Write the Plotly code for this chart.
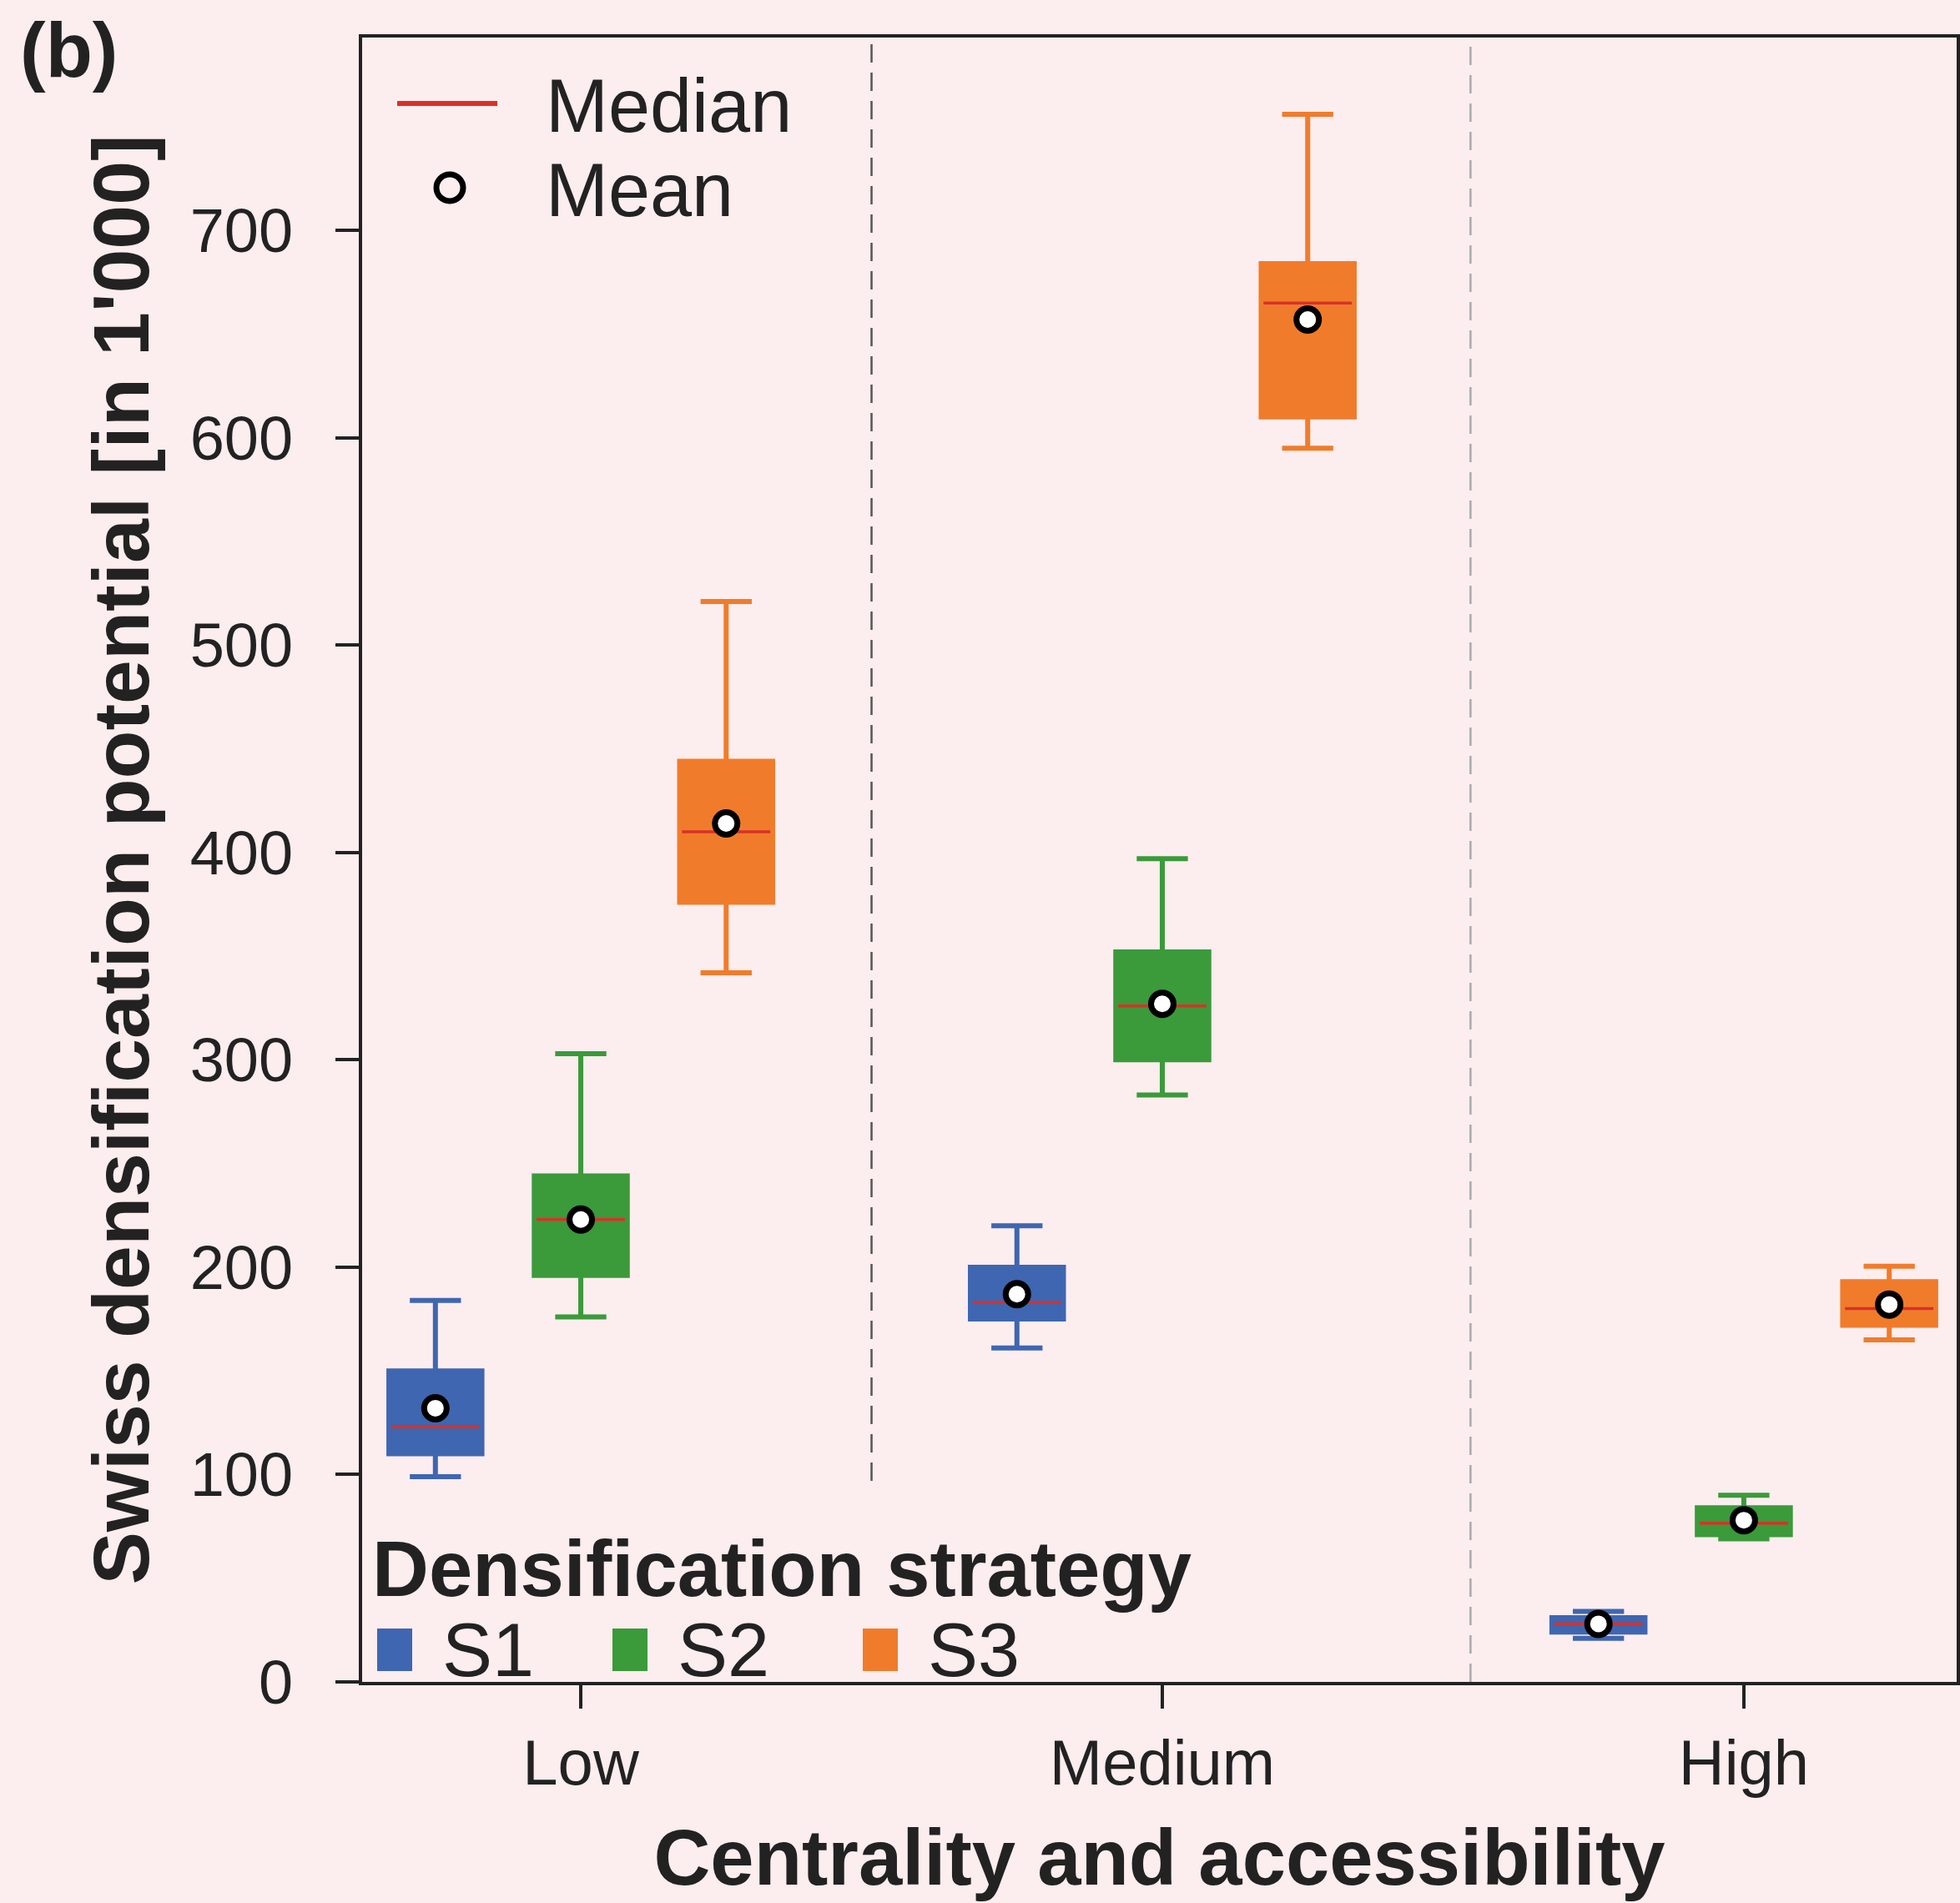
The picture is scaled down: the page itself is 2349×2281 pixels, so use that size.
import plotly.graph_objects as go

# ---------------- data ----------------
categories = ["Low", "Medium", "High"]
strategies = ["S1", "S2", "S3"]
colors = ["#3f66b0", "#3b9a3a", "#f07c2b"]
offsets = [-0.25, 0.0, 0.25]

# values per strategy, ordered Low, Medium, High  [in 1'000]
lower_whisker = {"S1": [99, 161, 21], "S2": [176, 283, 69], "S3": [342, 595, 165]}
q1 = {"S1": [110, 175, 24], "S2": [196, 300, 71], "S3": [376, 610, 172]}
median = {"S1": [123, 183, 28], "S2": [223, 326, 76.5], "S3": [410, 665, 180]}
q3 = {"S1": [150, 200, 31], "S2": [244, 352, 84], "S3": [444, 684, 193]}
upper_whisker = {"S1": [184, 220, 34], "S2": [303, 397, 90], "S3": [521, 756, 200.5]}
mean = {"S1": [132, 187, 28], "S2": [223, 327, 78], "S3": [414, 657, 182]}

y_ticks = [0, 100, 200, 300, 400, 500, 600, 700]
separators = [0.5, 1.53]

# ---------------- style ----------------
BG = "#fcedef"
INK = "#222222"
MEDIAN_RED = "#d8312b"
FONT = "Liberation Sans, Arial, Helvetica, sans-serif"
BOX_W = 0.16

fig = go.Figure()

for s, col, off in zip(strategies, colors, offsets):
    xs = [i + off for i in range(len(categories))]
    fig.add_trace(go.Box(
        name=s, x=xs,
        q1=q1[s], median=median[s], q3=q3[s],
        lowerfence=lower_whisker[s], upperfence=upper_whisker[s],
        width=BOX_W, whiskerwidth=0.55,
        fillcolor=col, line=dict(color=col, width=6),
        boxpoints=False, showlegend=False, hoverinfo="skip",
    ))
    # median line in red
    mx, my = [], []
    for x, m in zip(xs, median[s]):
        mx += [x - BOX_W / 2 + 0.004, x + BOX_W / 2 - 0.004, None]
        my += [m, m, None]
    fig.add_trace(go.Scatter(x=mx, y=my, mode="lines",
                             line=dict(color=MEDIAN_RED, width=3.5),
                             showlegend=False, hoverinfo="skip"))

# means
for s, off in zip(strategies, offsets):
    xs = [i + off for i in range(len(categories))]
    fig.add_trace(go.Scatter(x=xs, y=mean[s], mode="markers",
                             marker=dict(symbol="circle", size=27, color="white",
                                         line=dict(color="black", width=7)),
                             showlegend=False, hoverinfo="skip"))

shapes = []
# separators between groups
shapes.append(dict(type="line", xref="x", yref="y", x0=separators[0], x1=separators[0],
                   y0=97, y1=793, line=dict(color="#555555", width=2.5, dash="22px,12px")))
shapes.append(dict(type="line", xref="x", yref="paper", x0=separators[1], x1=separators[1],
                   y0=0, y1=1, line=dict(color="#aaaaaa", width=2.5, dash="22px,12px")))

# ---------------- legends (drawn in paper space) ----------------
def px(X):
    return (X - 434) / 1911

def py(Y):
    return (2016 - Y) / 1971

annotations = []
# Median / Mean key
shapes.append(dict(type="line", xref="paper", yref="paper", x0=px(476), x1=px(596),
                   y0=py(124), y1=py(124), line=dict(color=MEDIAN_RED, width=6)))
shapes.append(dict(type="circle", xref="paper", yref="paper",
                   x0=px(539 - 16), x1=px(539 + 16), y0=py(225 + 16), y1=py(225 - 16),
                   line=dict(color="black", width=7), fillcolor="rgba(0,0,0,0)"))
annotations.append(dict(text="Median", xref="paper", yref="paper", x=px(652), y=py(127),
                        xanchor="left", yanchor="middle", showarrow=False,
                        font=dict(size=90, color=INK, family=FONT)))
annotations.append(dict(text="Mean", xref="paper", yref="paper", x=px(652), y=py(228),
                        xanchor="left", yanchor="middle", showarrow=False,
                        font=dict(size=90, color=INK, family=FONT)))

# Densification strategy key
annotations.append(dict(text="<b>Densification strategy</b>", xref="paper", yref="paper",
                        x=px(444), y=py(1880), xanchor="left", yanchor="middle",
                        showarrow=False, font=dict(size=94, color=INK, family=FONT)))
key_x = [452, 734, 1034]
for s, col, kx in zip(strategies, colors, key_x):
    shapes.append(dict(type="rect", xref="paper", yref="paper",
                       x0=px(kx), x1=px(kx + 42), y0=py(2003), y1=py(1952),
                       fillcolor=col, line=dict(width=0)))
    annotations.append(dict(text=s, xref="paper", yref="paper", x=px(kx + 76), y=py(1978),
                            xanchor="left", yanchor="middle", showarrow=False,
                            font=dict(size=90, color=INK, family=FONT)))

# panel label
annotations.append(dict(text="<b>(b)</b>", xref="paper", yref="paper", x=px(82), y=py(60),
                        xanchor="center", yanchor="middle", showarrow=False,
                        font=dict(size=92, color=INK, family=FONT)))

fig.update_layout(
    template="none",
    width=2349, height=2281,
    paper_bgcolor=BG, plot_bgcolor=BG,
    margin=dict(l=434, r=4, t=45, b=265, autoexpand=False),
    showlegend=False,
    font=dict(family=FONT, color=INK, size=74),
    shapes=shapes,
    annotations=annotations,
    xaxis=dict(
        range=[-0.376, 2.366], tickmode="array", tickvals=list(range(len(categories))),
        ticktext=categories, ticks="outside", ticklen=28, tickwidth=4, tickcolor=INK,
        showline=True, linecolor=INK, linewidth=4, mirror=True,
        showgrid=False, zeroline=False, automargin=False,
        tickfont=dict(size=76, color=INK, family=FONT), ticklabelstandoff=0,
        title=dict(text="<b>Centrality and accessibility</b>",
                   font=dict(size=94, color=INK, family=FONT), standoff=40),
    ),
    yaxis=dict(
        range=[0, 793], tickmode="array", tickvals=y_ticks,
        ticks="outside", ticklen=28, tickwidth=4, tickcolor=INK,
        showline=True, linecolor=INK, linewidth=4, mirror=True,
        showgrid=False, zeroline=False, automargin=False,
        tickfont=dict(size=74, color=INK, family=FONT), ticklabelstandoff=36,
        title=dict(text="<b>Swiss densification potential [in 1'000]</b>",
                   font=dict(size=95, color=INK, family=FONT), standoff=18),
    ),
)

fig.write_html("out.html")
